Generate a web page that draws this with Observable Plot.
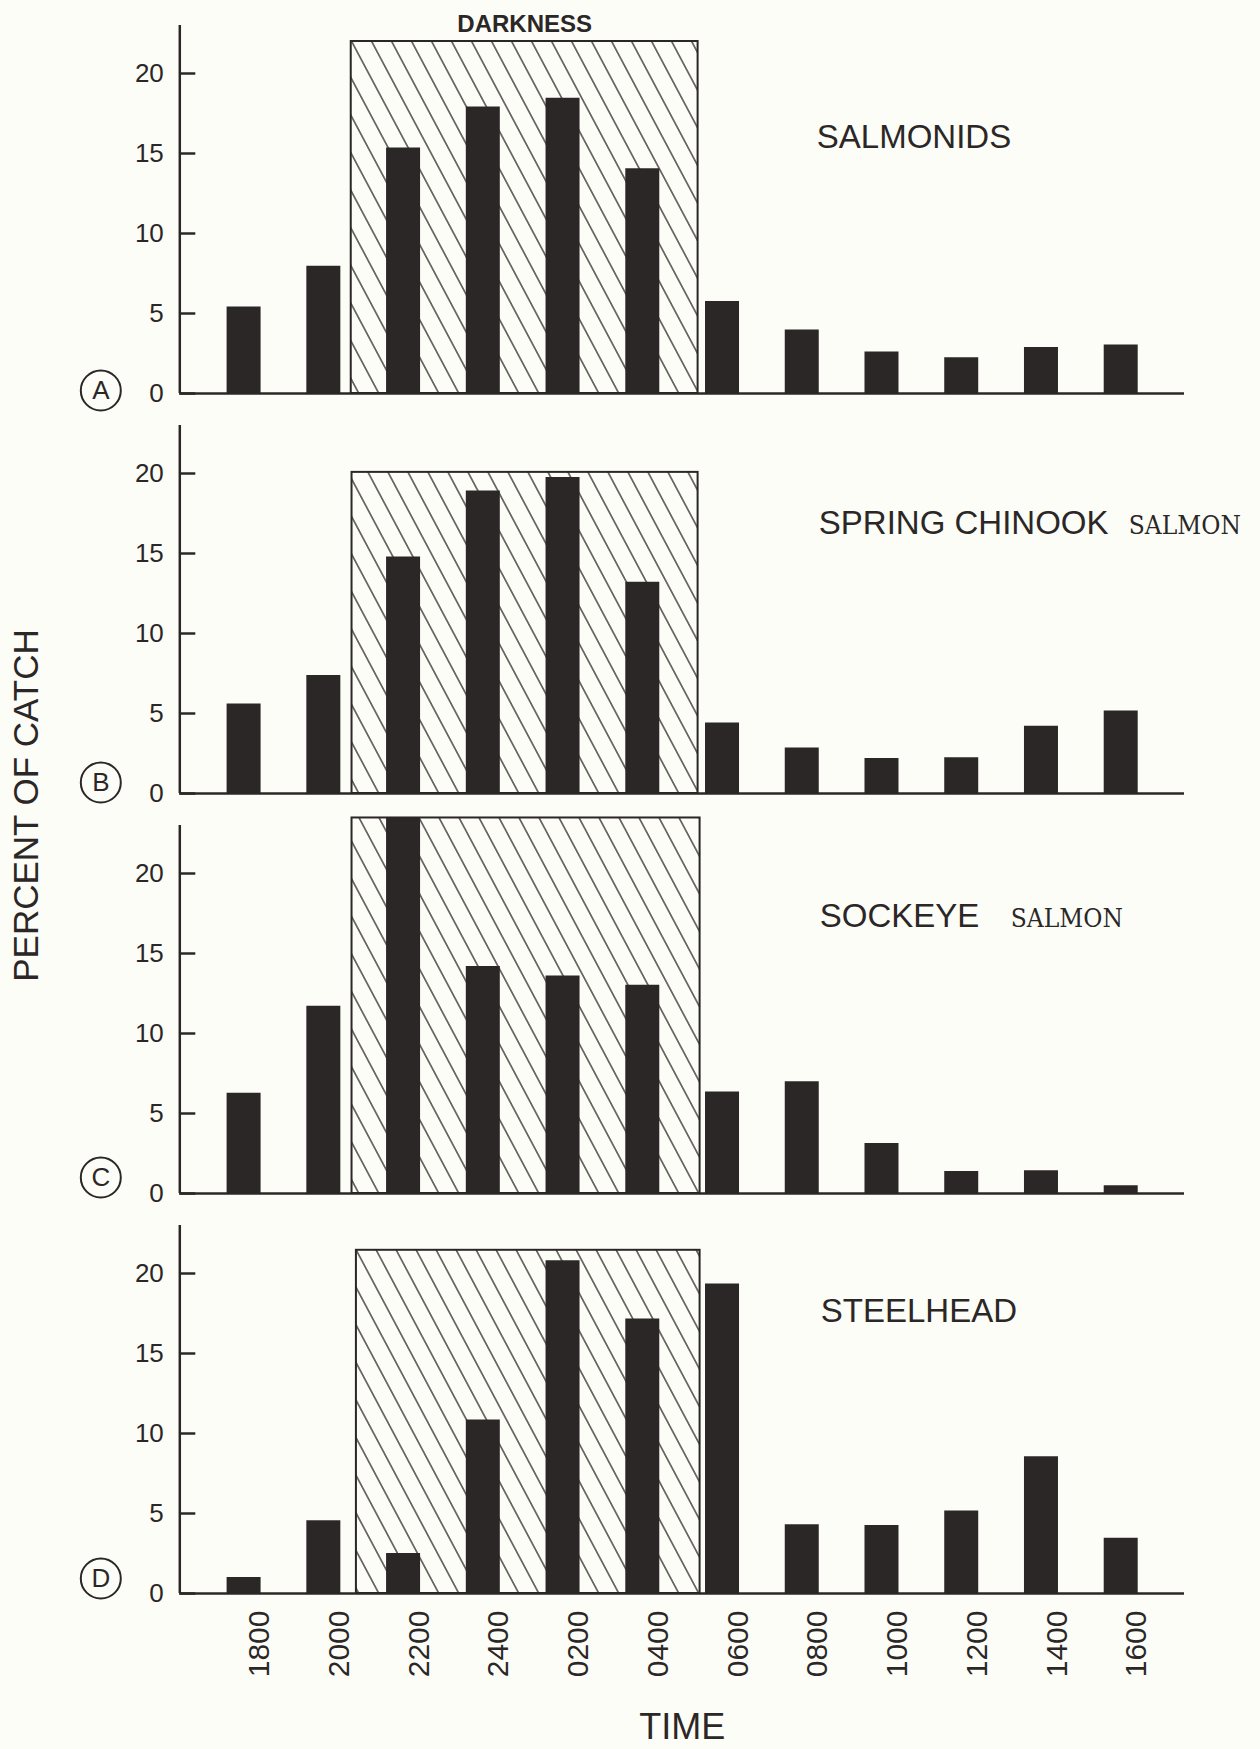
<!DOCTYPE html>
<html>
<head>
<meta charset="utf-8">
<script src="https://cdn.jsdelivr.net/npm/d3@7"></script>
<script src="https://cdn.jsdelivr.net/npm/@observablehq/plot@0.6"></script>
<style>
  html, body { margin: 0; padding: 0; background: #fdfdf8; }
  #chart svg { display: block; }
</style>
</head>
<body>
<div id="chart"></div>
<script>
// ---------- data ----------
const panels = ["A", "B", "C", "D"];
const panelTitles = ["SALMONIDS", "SPRING CHINOOK", "SOCKEYE", "STEELHEAD"];
const panelSuffixes = ["", "SALMON", "SALMON", ""];
const hours = [18, 20, 22, 24, 26, 28, 30, 32, 34, 36, 38, 40];
const timeLabels = ["1800", "2000", "2200", "2400", "0200", "0400", "0600", "0800", "1000", "1200", "1400", "1600"];
const salmonids     = [5.4, 7.95, 15.35, 17.9, 18.45, 14.05, 5.75, 3.97, 2.6, 2.23, 2.88, 3.03];
const springChinook = [5.6, 7.37, 14.78, 18.91, 19.75, 13.21, 4.41, 2.85, 2.19, 2.23, 4.2, 5.16];
const sockeye       = [6.27, 11.7, 23.47, 14.19, 13.6, 13.02, 6.35, 6.98, 3.13, 1.38, 1.42, 0.48];
const steelhead     = [1.0, 4.55, 2.5, 10.85, 20.8, 17.15, 19.35, 4.3, 4.25, 5.15, 8.55, 3.45];
const darknessStart = [20.7, 20.72, 20.72, 20.83];
const darknessEnd   = [29.4, 29.4, 29.45, 29.45];
const darknessTop   = [22.0, 20.07, 23.47, 21.45];
const darknessLabel = "DARKNESS";
const yTicks = [0, 5, 10, 15, 20];
const xTitle = "TIME";
const yTitle = "PERCENT OF CATCH";

// ---------- tables built from the arrays ----------
const series = [salmonids, springChinook, sockeye, steelhead];
const bars = panels.flatMap((p, k) => series[k].map((v, i) => ({panel: p, hour: hours[i], pct: v})));
const dark = panels.map((p, k) => ({panel: p, start: darknessStart[k], end: darknessEnd[k], top: darknessTop[k]}));
const titles = panels.map((p, k) => ({panel: p, title: panelTitles[k], suffix: panelSuffixes[k]}));
const labelOf = new Map(hours.map((h, i) => [h, timeLabels[i]]));

// ---------- styles ----------
const ink = "#2b2727";
const paper = "#fdfdf8";
const sans = "'Liberation Sans', Arial, Helvetica, sans-serif";
const serif = "'DejaVu Serif Condensed', 'DejaVu Serif', 'Liberation Serif', serif";
const titleStyle = {
  A: {dx: 637, dy: 107},
  B: {dx: 639, dy: 93, sdx: 949, sdy: 98},
  C: {dx: 640, dy: 86, sdx: 831, sdy: 91},
  D: {dx: 641, dy: 81}
};
const circleStyle = {A: -3, B: -11, C: -16, D: -15};

const marks = [
  // darkness box
  Plot.rect(dark, {x1: "start", x2: "end", y1: 0, y2: "top", fy: "panel",
    fill: "url(#hatch)", stroke: ink, strokeWidth: 2}),
  Plot.text(dark.filter(d => d.panel === "A"), {x: d => (d.start + d.end) / 2, y: "top", fy: "panel",
    text: () => darknessLabel, dy: -10, lineAnchor: "bottom", fontSize: 24, fontWeight: "bold",
    fontFamily: sans, fill: ink}),
  // bars
  Plot.ruleX(bars, {x: "hour", y1: 0, y2: "pct", fy: "panel", stroke: ink, strokeWidth: 34}),
  // baseline and vertical axis line
  Plot.ruleY([0], {stroke: ink, strokeWidth: 2.5}),
  Plot.ruleX([16.4], {y1: 0, y2: 23, stroke: ink, strokeWidth: 2.5}),
  // y axis ticks (inward) and labels
  Plot.axisY({ticks: yTicks, tickSize: -16, tickPadding: 32, fontSize: 26, strokeWidth: 2.5,
    label: null, fontFamily: sans, color: ink}),
  // x axis labels
  Plot.axisX({ticks: hours, tickFormat: h => labelOf.get(h), tickRotate: -90, tickSize: 0,
    tickPadding: 17, textAnchor: "end", lineAnchor: "middle", dx: 16, fontSize: 30,
    label: null, fontFamily: sans, color: ink}),
  // circled panel letters
  ...panels.map(p => Plot.dot([{panel: p}], {fy: "panel", frameAnchor: "bottom-left",
    dx: -79, dy: circleStyle[p], r: 20, stroke: ink, strokeWidth: 2, fill: "none"})),
  ...panels.map(p => Plot.text([{panel: p}], {fy: "panel", text: "panel", frameAnchor: "bottom-left",
    textAnchor: "middle", lineAnchor: "middle",
    dx: -79, dy: circleStyle[p], fontSize: 26, fontFamily: sans, fill: ink})),
  // panel titles
  ...titles.map(t => Plot.text([t], {fy: "panel", text: "title", frameAnchor: "top-left",
    dx: titleStyle[t.panel].dx, dy: titleStyle[t.panel].dy, lineAnchor: "top", textAnchor: "start",
    fontSize: 33, fontFamily: sans, fill: ink})),
  ...titles.filter(t => t.suffix).map(t => Plot.text([t], {fy: "panel", text: "suffix", frameAnchor: "top-left",
    dx: titleStyle[t.panel].sdx, dy: titleStyle[t.panel].sdy, lineAnchor: "top", textAnchor: "start",
    fontSize: 26, fontFamily: serif, fill: ink})),
  // axis titles
  Plot.text([{panel: "D"}], {fy: "panel", text: () => xTitle, frameAnchor: "bottom", dy: 145,
    lineAnchor: "bottom", textAnchor: "middle", fontSize: 36, fontFamily: sans, fill: ink}),
  Plot.text([{panel: "B"}], {fy: "panel", text: () => yTitle, frameAnchor: "bottom-left", dx: -153, dy: 12,
    rotate: -90, textAnchor: "middle", lineAnchor: "middle", fontSize: 35, fontFamily: sans, fill: ink})
];

const chart = Plot.plot({
  width: 1260,
  height: 1749,
  marginTop: 16.3,
  marginBottom: 155.5,
  marginLeft: 179.3,
  marginRight: 76,
  facet: {marginTop: 0, marginBottom: 0, marginLeft: 0, marginRight: 0},
  x: {domain: [16.4, 41.6]},
  y: {domain: [0, 23.5]},
  fy: {domain: panels, paddingInner: 0.0609, paddingOuter: 0, axis: null},
  style: {background: paper, color: ink, fontFamily: sans},
  marks
});

const svg = chart.tagName.toLowerCase() === "svg" ? chart : chart.querySelector("svg");
const defs = d3.select(svg).insert("defs", ":first-child");
const pat = defs.append("pattern")
  .attr("id", "hatch")
  .attr("patternUnits", "userSpaceOnUse")
  .attr("width", 20).attr("height", 20)
  .attr("patternTransform", "skewX(28)");
pat.append("rect").attr("width", 20).attr("height", 20).attr("fill", paper);
pat.append("line").attr("x1", 10).attr("y1", -1).attr("x2", 10).attr("y2", 21)
  .attr("stroke", ink).attr("stroke-width", 1.4);

document.getElementById("chart").appendChild(chart);
</script>
</body>
</html>
